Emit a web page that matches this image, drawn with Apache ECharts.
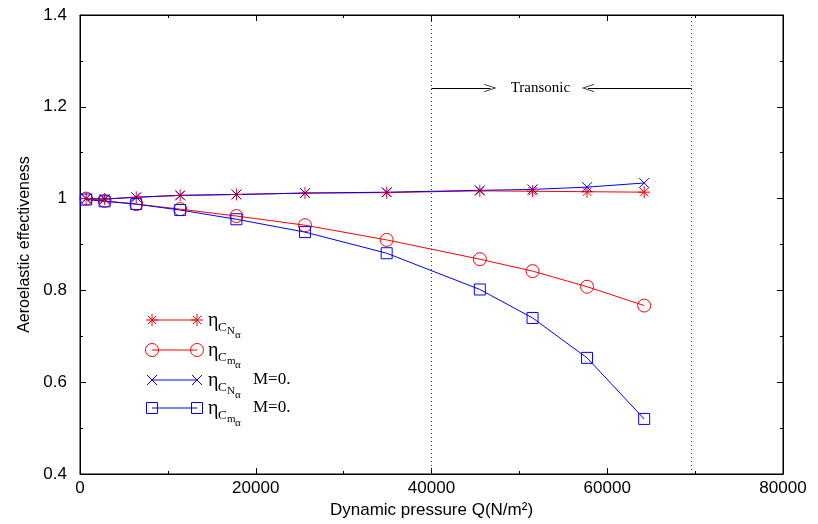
<!DOCTYPE html>
<html>
<head>
<meta charset="utf-8">
<script src="https://cdn.jsdelivr.net/npm/echarts@6/dist/echarts.min.js"></script>
<style>html,body{margin:0;padding:0;background:#fff}#c{width:818px;height:524px}</style>
</head>
<body>
<div id="c"></div>
<script>
// Dynamic pressure Q (N/m^2)
const pressure = [700, 2800, 6400, 11400, 17800, 25600, 34900, 45500, 51500, 57700, 64200];
const etaCN      = [1.000, 0.999, 1.003, 1.007, 1.009, 1.012, 1.013, 1.017, 1.016, 1.015, 1.014];
const etaCm      = [1.000, 0.995, 0.988, 0.977, 0.962, 0.942, 0.910, 0.868, 0.842, 0.808, 0.767];
const etaCN_M0   = [1.000, 0.999, 1.003, 1.007, 1.009, 1.012, 1.014, 1.018, 1.020, 1.025, 1.034];
const etaCm_M0   = [0.998, 0.994, 0.988, 0.975, 0.955, 0.927, 0.881, 0.802, 0.740, 0.653, 0.520];
const xTicks = [0, 20000, 40000, 60000, 80000];
const yTicks = [0.4, 0.6, 0.8, 1.0, 1.2, 1.4];
const transonicBounds = [40000, 69600];
const transonicY = 1.241;
const arrowEnds = [46700, 57800];
const transonicLabelX = 52400;

const zip = (xs, ys) => xs.map((x, i) => [x, ys[i]]);
const RED = '#ff0000', BLUE = '#0000ff';
const SANS = 'Liberation Sans', SERIF = 'Liberation Serif';
const starPath = 'path://M10,0L10,20M0,10L20,10M3,3L17,17M3,17L17,3';
const crossPath = 'path://M0,0L10,10M0,10L10,0';
const openArrow = 'path://M0,0L4,12L3.2,12L0,2.2L-3.2,12L-4,12Z';

function series(name, data, color, symbol, size) {
  return {
    name, type: 'line', data, symbol, symbolSize: size,
    showSymbol: true,
    lineStyle: { color, width: 1 },
    itemStyle: { color: 'rgba(0,0,0,0)', borderColor: color, borderWidth: 1 },
    emphasis: { disabled: true },
    animation: false, z: 3
  };
}

const s1 = series('cn', zip(pressure, etaCN), RED, starPath, 12);
const s2 = series('cm', zip(pressure, etaCm), RED, 'circle', 13);
const s3 = series('cn0', zip(pressure, etaCN_M0), BLUE, crossPath, 10);
const s4 = series('cm0', zip(pressure, etaCm_M0), BLUE, 'rect', 11);

s1.markLine = {
  silent: true, animation: false,
  symbol: ['none', 'none'],
  label: { show: false },
  data: [
    { xAxis: transonicBounds[0], lineStyle: { type: [1, 3], color: '#333', width: 1 } },
    { xAxis: transonicBounds[1], lineStyle: { type: [1, 3], color: '#333', width: 1 } },
    [
      { coord: [transonicBounds[0], transonicY], symbol: 'none', lineStyle: { type: 'solid', color: '#000', width: 1 } },
      { coord: [arrowEnds[0], transonicY], symbol: openArrow, symbolSize: [8, 12] }
    ],
    [
      { coord: [transonicBounds[1], transonicY], symbol: 'none', lineStyle: { type: 'solid', color: '#000', width: 1 } },
      { coord: [arrowEnds[1], transonicY], symbol: openArrow, symbolSize: [8, 12] }
    ]
  ]
};
s1.markPoint = {
  silent: true, animation: false,
  data: [{ coord: [transonicLabelX, transonicY], symbol: 'circle', symbolSize: 0,
    label: { show: true, formatter: 'Transonic', position: 'inside', color: '#000', fontFamily: SERIF, fontSize: 15 } }]
};

// Legend drawn as graphic
const legendX1 = 152, legendX2 = 197, textX = 208;
const rows = [
  { y: 320, color: RED, sym: 'star', sub: 'C', sub2: 'N', m0: false },
  { y: 350, color: RED, sym: 'circle', sub: 'C', sub2: 'm', m0: false },
  { y: 380, color: BLUE, sym: 'cross', sub: 'C', sub2: 'N', m0: true },
  { y: 408, color: BLUE, sym: 'square', sub: 'C', sub2: 'm', m0: true }
];
function symEls(type, x, y, c) {
  const st = { stroke: c, lineWidth: 1, fill: null };
  const L = (x1, y1, x2, y2) => ({ type: 'line', shape: { x1, y1, x2, y2 }, style: st });
  if (type === 'star') return [L(x-6,y,x+6,y), L(x,y-6,x,y+6), L(x-4.2,y-4.2,x+4.2,y+4.2), L(x-4.2,y+4.2,x+4.2,y-4.2)];
  if (type === 'cross') return [L(x-5,y-5,x+5,y+5), L(x-5,y+5,x+5,y-5)];
  if (type === 'circle') return [{ type: 'circle', shape: { cx: x, cy: y, r: 6.5 }, style: st }];
  return [{ type: 'rect', shape: { x: x-5.5, y: y-5.5, width: 11, height: 11 }, style: st }];
}
const graphics = [];
// plot frame top edge
graphics.push({ type: 'line', z: 10, shape: { x1: 80, y1: 15.5, x2: 783, y2: 15.5 }, style: { stroke: '#000', lineWidth: 1 } });
rows.forEach(r => {
  graphics.push({ type: 'line', shape: { x1: legendX1, y1: r.y, x2: legendX2, y2: r.y }, style: { stroke: r.color, lineWidth: 1 } });
  graphics.push(...symEls(r.sym, legendX1, r.y, r.color));
  graphics.push(...symEls(r.sym, legendX2, r.y, r.color));
  const T = (text, x, y, size) => ({ type: 'text', x, y, style: { text, fill: '#000', fontFamily: SERIF, fontSize: size, verticalAlign: 'middle', align: 'left' } });
  graphics.push(T('η', textX, r.y + 1, 20));
  graphics.push(T(r.sub, textX + 10, r.y + 8, 13));
  graphics.push(T(r.sub2, textX + 19, r.y + 11, 11));
  graphics.push(T('α', textX + 27, r.y + 15, 11));
  if (r.m0) graphics.push(T('M=0.', 253, r.y, 17));
});

const axisLine = { show: true, onZero: false, lineStyle: { color: '#000', width: 1 } };
const labelStyle = { color: '#000', fontFamily: SANS, fontSize: 17 };

const option = {
  animation: false,
  backgroundColor: '#fff',
  grid: { left: 80, right: 35, top: 15, bottom: 50, outerBoundsMode: 'none', containLabel: false,
    show: true, borderColor: '#000', borderWidth: 1, backgroundColor: 'rgba(0,0,0,0)' },
  xAxis: [
    {
      type: 'value', min: xTicks[0], max: xTicks[xTicks.length - 1], interval: 20000,
      axisLine, splitLine: { show: false },
      axisTick: { show: true, inside: true, length: 6, lineStyle: { color: '#000' } },
      minorTick: { show: true, splitNumber: 2, length: 3, lineStyle: { color: '#000' } },
      axisLabel: { ...labelStyle, margin: 6, formatter: v => String(v) },
      name: 'Dynamic pressure Q(N/m²)', nameLocation: 'middle', nameGap: 28,
      nameTextStyle: { color: '#000', fontFamily: SANS, fontSize: 17 }
    },
    {
      type: 'value', position: 'top', show: true, min: xTicks[0], max: xTicks[xTicks.length - 1], interval: 20000,
      axisLine, splitLine: { show: false },
      axisTick: { show: true, inside: true, length: 6, lineStyle: { color: '#000' } },
      minorTick: { show: true, splitNumber: 2, length: 3, lineStyle: { color: '#000' } },
      axisLabel: { show: false }
    }
  ],
  yAxis: [
    {
      type: 'value', min: yTicks[0], max: yTicks[yTicks.length - 1], interval: 0.2,
      axisLine, splitLine: { show: false },
      axisTick: { show: true, inside: true, length: 6, lineStyle: { color: '#000' } },
      minorTick: { show: true, splitNumber: 2, length: 3, lineStyle: { color: '#000' } },
      axisLabel: { ...labelStyle, margin: 13, formatter: v => (Math.abs(v - 1) < 1e-9 ? '1' : v.toFixed(1)) },
      name: 'Aeroelastic effectiveness', nameLocation: 'middle', nameGap: 44,
      nameTextStyle: { color: '#000', fontFamily: SANS, fontSize: 16 }
    },
    {
      type: 'value', position: 'right', show: true, min: yTicks[0], max: yTicks[yTicks.length - 1], interval: 0.2,
      axisLine, splitLine: { show: false },
      axisTick: { show: true, inside: true, length: 6, lineStyle: { color: '#000' } },
      minorTick: { show: true, splitNumber: 2, length: 3, lineStyle: { color: '#000' } },
      axisLabel: { show: false }
    }
  ],
  series: [s1, s2, s3, s4],
  graphic: { elements: graphics }
};

const chart = echarts.init(document.getElementById('c'), null, { renderer: 'canvas' });
chart.setOption(option);
</script>
</body>
</html>
